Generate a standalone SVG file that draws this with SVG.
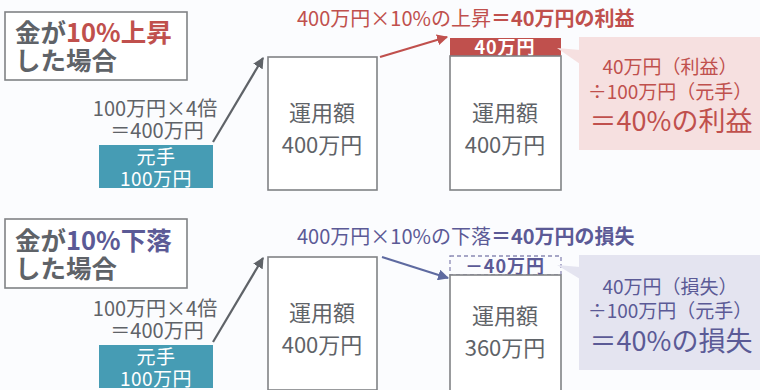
<svg xmlns="http://www.w3.org/2000/svg" width="760" height="390" viewBox="0 0 760 390">
<defs>
<style>
text{font-family:"Noto Sans CJK JP","Noto Sans",sans-serif;}
.box{fill:#ffffff;stroke:#808285;stroke-width:1.6;}
.title{font-size:25.5px;font-weight:bold;fill:#5f6368;}
.calc{font-size:20px;fill:#5f6368;text-anchor:middle;}
.gan{font-size:19px;fill:#ffffff;text-anchor:middle;letter-spacing:0.5px;}
.amt{font-size:22px;fill:#5f6368;text-anchor:middle;}
.red{fill:#c0504d;}
.pur{fill:#5b5a96;}
.head{font-size:20px;}
.cl{font-size:19px;text-anchor:middle;}
.cb{font-size:27px;text-anchor:middle;}
.tag{font-size:18px;font-weight:bold;text-anchor:middle;letter-spacing:1px;}
</style>
<marker id="ag" viewBox="0 0 10 10" refX="9" refY="5" markerWidth="5" markerHeight="5" orient="auto" markerUnits="strokeWidth"><path d="M0,0L10,5L0,10z" fill="#5f6368"/></marker>
<marker id="ar" viewBox="0 0 10 10" refX="9" refY="5" markerWidth="5" markerHeight="5" orient="auto" markerUnits="strokeWidth"><path d="M0,0L10,5L0,10z" fill="#c0504d"/></marker>
<marker id="ap" viewBox="0 0 10 10" refX="9" refY="5" markerWidth="5" markerHeight="5" orient="auto" markerUnits="strokeWidth"><path d="M0,0L10,5L0,10z" fill="#5e6aa0"/></marker>
</defs>
<rect width="760" height="390" fill="#fbfcfe"/>

<!-- Top section -->
<g id="title-up">
<rect class="box" x="5" y="12" width="182" height="68"/>
<text class="title" x="15" y="42">金が<tspan class="red">10%上昇</tspan></text>
<text class="title" x="15" y="70">した場合</text>
</g>
<g id="calc-up">
<text class="calc" x="155" y="116">100万円×4倍</text>
<text class="calc" x="157" y="138">＝400万円</text>
</g>
<g id="gante-up">
<rect x="99" y="145" width="114" height="43" fill="#469cb4"/>
<text class="gan" x="156" y="164">元手</text>
<text class="gan" x="156" y="186">100万円</text>
</g>
<g id="unyo-up">
<rect class="box" x="268" y="57" width="109" height="133"/>
<text class="amt" x="322" y="121">運用額</text>
<text class="amt" x="322" y="153">400万円</text>
</g>
<g id="label-up">
<text class="head red" x="297" y="26">400万円×10%の上昇<tspan font-weight="bold">＝40万円の利益</tspan></text>
</g>
<g id="gain-box">
<rect x="450" y="38" width="111" height="18" fill="#c0504d"/>
<text class="tag" x="505" y="54" fill="#ffffff">40万円</text>
</g>
<g id="unyo-up2">
<rect class="box" x="450" y="56" width="111" height="134"/>
<text class="amt" x="505" y="121">運用額</text>
<text class="amt" x="505" y="153">400万円</text>
</g>
<g id="callout-up">
<polygon points="557,48 580,50 580,64" fill="#f6e0e0"/>
<rect x="579" y="37" width="181" height="113" fill="#f6e0e0"/>
<text class="cl red" x="670" y="74">40万円（利益）</text>
<text class="cl red" x="670" y="99">÷100万円（元手）</text>
<text class="cb red" x="671" y="131">＝40%の利益</text>
</g>

<!-- Bottom section -->
<g id="title-down">
<rect class="box" x="5" y="219" width="182" height="69"/>
<text class="title" x="15" y="250">金が<tspan class="pur">10%下落</tspan></text>
<text class="title" x="15" y="278">した場合</text>
</g>
<g id="calc-down">
<text class="calc" x="155" y="316">100万円×4倍</text>
<text class="calc" x="157" y="338">＝400万円</text>
</g>
<g id="gante-down">
<rect x="99" y="345" width="114" height="43" fill="#469cb4"/>
<text class="gan" x="156" y="364">元手</text>
<text class="gan" x="156" y="386">100万円</text>
</g>
<g id="unyo-down">
<rect class="box" x="268" y="257" width="109" height="133"/>
<text class="amt" x="322" y="321">運用額</text>
<text class="amt" x="322" y="353">400万円</text>
</g>
<g id="label-down">
<text class="head pur" x="297" y="244">400万円×10%の下落<tspan font-weight="bold">＝40万円の損失</tspan></text>
</g>
<g id="loss-box">
<rect x="450" y="256" width="111" height="19" fill="none" stroke="#8a89b4" stroke-width="1.3" stroke-dasharray="4,3"/>
<text class="tag" x="505" y="273" fill="#5b5a96">－40万円</text>
</g>
<g id="unyo-down2">
<rect class="box" x="450" y="275" width="111" height="116"/>
<text class="amt" x="505" y="324">運用額</text>
<text class="amt" x="505" y="356">360万円</text>
</g>
<g id="callout-down">
<polygon points="557,265 580,267 580,279" fill="#e4e4f0"/>
<rect x="579" y="255" width="181" height="115" fill="#e4e4f0"/>
<text class="cl pur" x="670" y="294">40万円（損失）</text>
<text class="cl pur" x="670" y="318">÷100万円（元手）</text>
<text class="cb pur" x="671" y="351">＝40%の損失</text>
</g>

<g id="connectors" fill="none" stroke-width="2.2">
<line x1="213" y1="142" x2="263" y2="58" stroke="#5f6368" marker-end="url(#ag)"/>
<line x1="380" y1="57" x2="447" y2="37" stroke="#c0504d" marker-end="url(#ar)"/>
<line x1="213" y1="342" x2="263" y2="258" stroke="#5f6368" marker-end="url(#ag)"/>
<line x1="382" y1="257" x2="448" y2="278" stroke="#5e6aa0" marker-end="url(#ap)"/>
</g>
</svg>
